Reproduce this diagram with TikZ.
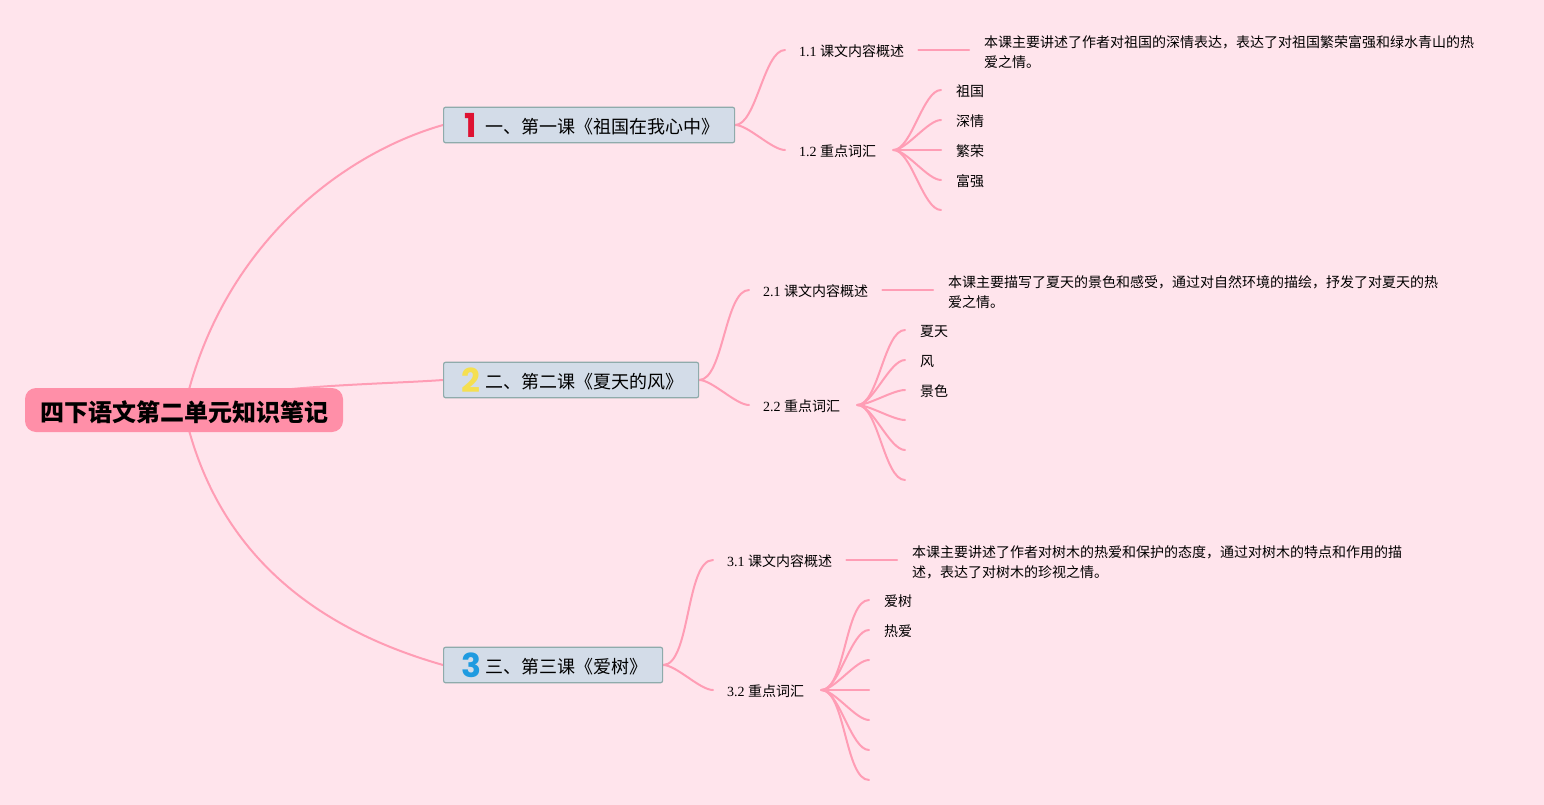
\documentclass[tikz,border=0pt]{standalone}
\usepackage{fontspec}
\setmainfont{Liberation Serif}
\newfontfamily\cjk{Noto Sans CJK SC}
\newfontfamily\iconfont{Poppins}
\usetikzlibrary{positioning,backgrounds}
\definecolor{mmbg}{HTML}{FFE4EC}
\definecolor{mmroot}{HTML}{FF8FA8}
\definecolor{mmline}{HTML}{FF9DB5}
\definecolor{mmtopic}{HTML}{D3DCE8}
\definecolor{mmedge}{HTML}{8FABAB}
\definecolor{mmred}{HTML}{DE1232}
\definecolor{mmyellow}{HTML}{F5DF50}
\definecolor{mmblue}{HTML}{1F9BE0}
\tikzset{
  rootbox/.style ={fill=mmroot, rounded corners=11pt, minimum width=318pt, minimum height=44pt,
                   inner sep=0pt, text height=24pt, text depth=2pt,
                   font=\fontsize{24}{28}\selectfont\cjk\bfseries},
  topic/.style   ={draw=mmedge, fill=mmtopic, line width=1.2pt, rounded corners=2pt, minimum height=35.5pt,
                   inner sep=0pt, anchor=west},
  topiclabel/.style={inner sep=0pt, anchor=west, font=\fontsize{18}{22}\selectfont\cjk},
  badge/.style   ={inner sep=0pt, font=\fontsize{33}{33}\selectfont\iconfont\bfseries},
  sub/.style     ={inner xsep=14pt, inner ysep=2pt, anchor=west, text height=13pt, text depth=0.4pt,
                   font=\fontsize{14}{20}\selectfont},
  note/.style    ={inner xsep=15pt, inner ysep=0pt, anchor=west, align=left, font=\fontsize{14}{20}\selectfont\cjk},
  leaf/.style    ={inner xsep=15pt, inner ysep=2pt, anchor=west, text height=13pt, text depth=0.4pt,
                   font=\fontsize{14}{20}\selectfont\cjk},
  branch/.style  ={draw=mmline, line width=2pt, line cap=round},
  twig/.style    ={out=0, in=180, looseness=.6},
}
\begin{document}
\begin{tikzpicture}[x=1pt,y=-1pt]
  \useasboundingbox (0,0) rectangle (1544,805);
  \node[rootbox] (root) at (184,410) {四下语文第二单元知识笔记};

  % topics
  \node[topic, minimum width=291pt] (t1) at (443,125) {};
  \node[topic, minimum width=255pt] (t2) at (443,380) {};
  \node[topic, minimum width=219pt] (t3) at (443,665) {};
  \node[badge, text=mmred] (b1) at (471,125) {1};
  \node[badge, text=mmyellow] (b2) at (471,380) {2};
  \node[badge, text=mmblue] (b3) at (471,665) {3};
  \node[topiclabel] (l1) at (485,127) {一、第一课《祖国在我心中》};
  \node[topiclabel] (l2) at (485.5,382) {二、第二课《夏天的风》};
  \node[topiclabel] (l3) at (485.5,667) {三、第三课《爱树》};

  % lesson 1
  \node[sub] (s11) at (785,50) {1.1 {\cjk 课文内容概述}};
  \node[sub] (s12) at (785,150) {1.2 {\cjk 重点词汇}};
  \node[note] (n11) at (969,52) {本课主要讲述了作者对祖国的深情表达，表达了对祖国繁荣富强和绿水青山的热\\爱之情。};
  \foreach \name/\yy/\txt in {a/90/祖国,b/120/深情,c/150/繁荣,d/180/富强}
    \node[leaf] (w1\name) at (941,\yy) {\txt};
  \coordinate (w1e) at (941,210);

  % lesson 2
  \node[sub] (s21) at (749,290) {2.1 {\cjk 课文内容概述}};
  \node[sub] (s22) at (749,405) {2.2 {\cjk 重点词汇}};
  \node[note] (n21) at (933,292) {本课主要描写了夏天的景色和感受，通过对自然环境的描绘，抒发了对夏天的热\\爱之情。};
  \foreach \name/\yy/\txt in {a/330/夏天,b/360/风,c/390/景色}
    \node[leaf] (w2\name) at (905,\yy) {\txt};
  \coordinate (w2d) at (905,420);
  \coordinate (w2e) at (905,450);
  \coordinate (w2f) at (905,480);

  % lesson 3
  \node[sub] (s31) at (713,560) {3.1 {\cjk 课文内容概述}};
  \node[sub] (s32) at (713,690) {3.2 {\cjk 重点词汇}};
  \node[note] (n31) at (897,562) {本课主要讲述了作者对树木的热爱和保护的态度，通过对树木的特点和作用的描\\述，表达了对树木的珍视之情。};
  \foreach \name/\yy/\txt in {a/600/爱树,b/630/热爱}
    \node[leaf] (w3\name) at (869,\yy) {\txt};
  \coordinate (w3c) at (869,660);
  \coordinate (w3d) at (869,690);
  \coordinate (w3e) at (869,720);
  \coordinate (w3f) at (869,750);
  \coordinate (w3g) at (869,780);

  \begin{scope}[on background layer]
    \fill[mmbg] (0,0) rectangle (1544,805);
    \draw[branch] (root.center) .. controls +(35,-160) and +(-105,30) .. (t1.west);
    \draw[branch] (root.center) .. controls +(60,-25) and +(-70,5) .. (t2.west);
    \draw[branch] (root.center) .. controls +(35,160) and +(-105,-30) .. (t3.west);
    \foreach \tp/\sa/\sb in {t1/s11/s12,t2/s21/s22,t3/s31/s32}{
      \draw[branch] (\tp.east) to[twig] (\sa.west);
      \draw[branch] (\tp.east) to[twig] (\sb.west);
    }
    \draw[branch] (s11.east) -- (n11.west |- s11.east);
    \draw[branch] (s21.east) -- (n21.west |- s21.east);
    \draw[branch] (s31.east) -- (n31.west |- s31.east);
    \foreach \w in {w1a,w1b,w1c,w1d,w1e}
      \draw[branch] ([xshift=3pt]s12.east) to[twig] (\w.west);
    \foreach \w in {w2a,w2b,w2c,w2d,w2e,w2f}
      \draw[branch] ([xshift=3pt]s22.east) to[twig] (\w.west);
    \foreach \w in {w3a,w3b,w3c,w3d,w3e,w3f,w3g}
      \draw[branch] ([xshift=3pt]s32.east) to[twig] (\w.west);
  \end{scope}
\end{tikzpicture}
\end{document}
